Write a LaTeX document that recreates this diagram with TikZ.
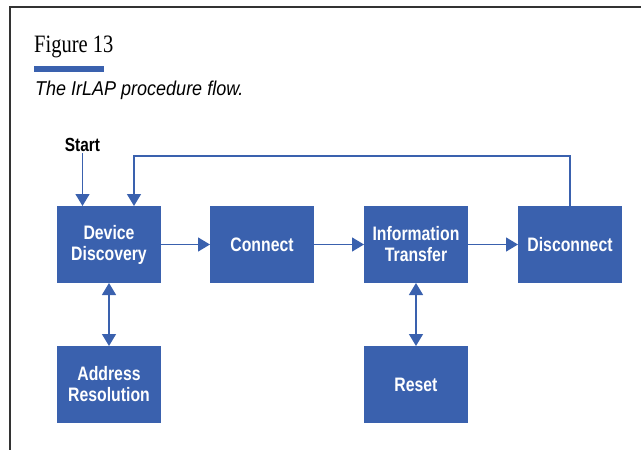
\documentclass[tikz,border=0pt]{standalone}
\usepackage{fontspec}
\usetikzlibrary{arrows.meta}
\newfontfamily\boxfont[FakeStretch=0.81]{Liberation Sans}
\newfontfamily\capfont[FakeStretch=0.9]{Liberation Sans}
\newfontfamily\titlefont[FakeStretch=0.82]{Liberation Serif}
\definecolor{hpblue}{RGB}{58,97,174}
\tikzset{
  box/.style={rectangle, fill=hpblue, minimum width=104pt, minimum height=77pt,
    inner sep=0pt, outer sep=0pt, text=white, align=center,
    font=\boxfont\bfseries\fontsize{19.5}{21}\selectfont},
  conn/.style={draw=hpblue, line width=1.3pt},
  arr/.style={conn, -{Triangle[width=14pt,length=12pt]}},
  arrb/.style={conn, {Triangle[width=14pt,length=12pt]}-{Triangle[width=14pt,length=12pt]}},
}
\begin{document}
\begin{tikzpicture}[x=1pt,y=-1pt]
\useasboundingbox (0,0) rectangle (641,450);
\draw[line width=1.2pt, black!80] (10,450) -- (10,7) -- (641,7);
\node[anchor=base west, inner sep=0pt, font=\titlefont\fontsize{25}{25}\selectfont] (title) at (34,52) {Figure 13};
\fill[hpblue] (34,66) rectangle (104,72);
\node[anchor=base west, inner sep=0pt, font=\capfont\itshape\fontsize{20}{20}\selectfont] (caption) at (35,95) {The IrLAP procedure flow.};

\node[box] (dd) at (109,244.5) {Device\\Discovery};
\node[box] (con) at (262,244.5) {Connect};
\node[box] (it) at (416,244.5) {Information\\Transfer};
\node[box] (disc) at (570,244.5) {Disconnect};
\node[box] (ar) at (109,384.5) {Address\\Resolution};
\node[box] (reset) at (416,384.5) {Reset};

\node[anchor=base, inner sep=2pt, font=\boxfont\bfseries\fontsize{19}{19}\selectfont] (start) at (82.5,151) {Start};
\draw[arr] (start.south) -- (start.south |- dd.north);
\coordinate (fb) at (134,156);
\draw[arr] (disc.north) |- (fb) -- (fb |- dd.north);

\draw[arr] (dd) -- (con);
\draw[arr] (con) -- (it);
\draw[arr] (it) -- (disc);
\draw[arrb] (dd) -- (ar);
\draw[arrb] (it) -- (reset);
\end{tikzpicture}
\end{document}
